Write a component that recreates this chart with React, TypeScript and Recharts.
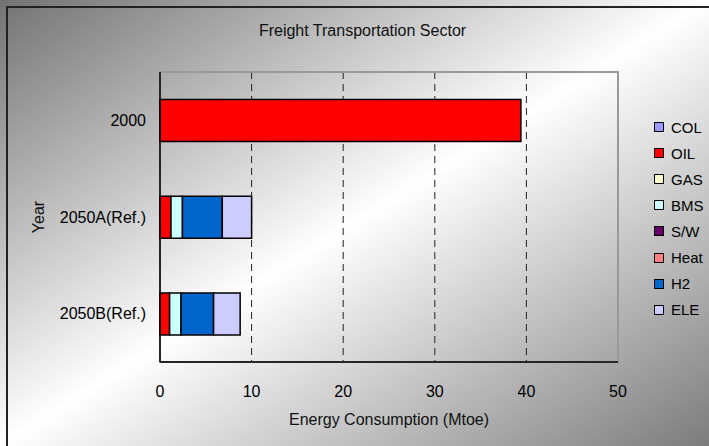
import React from "react";
import {
  BarChart,
  Bar,
  XAxis,
  YAxis,
  CartesianGrid,
  ReferenceArea,
} from "recharts";

// Energy consumption by fuel (Mtoe)
const years = ["2000", "2050A(Ref.)", "2050B(Ref.)"];
const fuels = ["COL", "OIL", "GAS", "BMS", "S/W", "Heat", "H2", "ELE"];
const fuelColors = ["#9999FF", "#FF0000", "#FFFFCC", "#CCFFFF", "#660066", "#FF8080", "#0066CC", "#CCCCFF"];

const COL = [0, 0, 0];
const OIL = [39.4, 1.2, 1.05];
const GAS = [0, 0, 0];
const BMS = [0, 1.25, 1.25];
const SW = [0, 0, 0];
const Heat = [0, 0, 0];
const H2 = [0, 4.35, 3.55];
const ELE = [0, 3.2, 2.9];

const xTicks = [0, 10, 20, 30, 40, 50];
const gridTicks = [10, 20, 30, 40];
const xMax = 50;

const series = [COL, OIL, GAS, BMS, SW, Heat, H2, ELE];

const data = years.map((year, i) => {
  const row: Record<string, string | number> = { year };
  fuels.forEach((f, k) => {
    row[f] = series[k][i];
  });
  return row;
});

const font = "'Liberation Sans', Arial, sans-serif";

function FuelLegend() {
  return (
    <div
      style={{
        position: "absolute",
        left: 654,
        top: 114,
        fontFamily: font,
        fontSize: 15,
        color: "#000",
      }}
    >
      {fuels.map((f, k) => (
        <div key={f} style={{ display: "flex", alignItems: "center", height: 26.1 }}>
          <span
            style={{
              display: "inline-block",
              width: 8,
              height: 8,
              background: fuelColors[k],
              border: "1.5px solid #000",
              marginRight: 7,
            }}
          />
          {f}
        </div>
      ))}
    </div>
  );
}

function YearLabel({ viewBox }: any) {
  const cx = viewBox.x + 28;
  const cy = viewBox.y + viewBox.height / 2;
  return (
    <text
      x={cx}
      y={cy}
      transform={`rotate(-90 ${cx} ${cy})`}
      textAnchor="middle"
      dominantBaseline="central"
      fontFamily={font}
      fontSize={16}
      fill="#111"
    >
      Year
    </text>
  );
}

export default function App() {
  return (
    <div
      style={{
        position: "fixed",
        left: 0,
        top: 0,
        width: 709,
        height: 446,
        overflow: "hidden",
        background: "linear-gradient(to bottom right, #737373 0%, #ffffff 50%, #7c7c7c 100%)",
      }}
    >
      <div
        style={{
          position: "absolute",
          left: 6,
          top: 6,
          width: 720,
          height: 460,
          borderLeft: "2px solid #222",
          borderTop: "2px solid #222",
        }}
      />
      <div
        style={{
          position: "absolute",
          left: 250,
          width: 225,
          top: 22,
          textAlign: "center",
          fontFamily: font,
          fontSize: 16,
          color: "#111",
        }}
      >
        Freight Transportation Sector
      </div>
      <BarChart
        width={709}
        height={446}
        data={data}
        layout="vertical"
        margin={{ top: 72, right: 91, bottom: 54, left: 10 }}
        barCategoryGap="28.5%"
      >
        <CartesianGrid
          horizontal={false}
          vertical
          verticalCoordinatesGenerator={({ offset }: any) =>
            gridTicks.map((v) => offset.left + (offset.width * v) / xMax)
          }
          stroke="#222"
          strokeDasharray="7 5"
        />
        <ReferenceArea x1={0} x2={xMax} fill="none" stroke="#999" strokeWidth={2} />
        <XAxis
          type="number"
          domain={[0, xMax]}
          ticks={xTicks}
          height={30}
          tickLine={false}
          axisLine={{ stroke: "#000", strokeWidth: 1.5 }}
          tick={{ fill: "#000", fontSize: 16, fontFamily: font }}
          tickMargin={18}
          label={{
            value: "Energy Consumption (Mtoe)",
            position: "insideBottom",
            offset: -33,
            fill: "#111",
            fontSize: 16,
            fontFamily: font,
          }}
        />
        <YAxis
          type="category"
          dataKey="year"
          width={150}
          tickLine={false}
          axisLine={{ stroke: "#000", strokeWidth: 1.5 }}
          tick={{ fill: "#000", fontSize: 16, fontFamily: font }}
          tickMargin={8}
          label={<YearLabel />}
        />
        {fuels.map((f, k) => (
          <Bar
            key={f}
            dataKey={f}
            stackId="fuel"
            fill={fuelColors[k]}
            stroke="#000"
            strokeWidth={1.5}
            isAnimationActive={false}
          />
        ))}
      </BarChart>
      <FuelLegend />
    </div>
  );
}
